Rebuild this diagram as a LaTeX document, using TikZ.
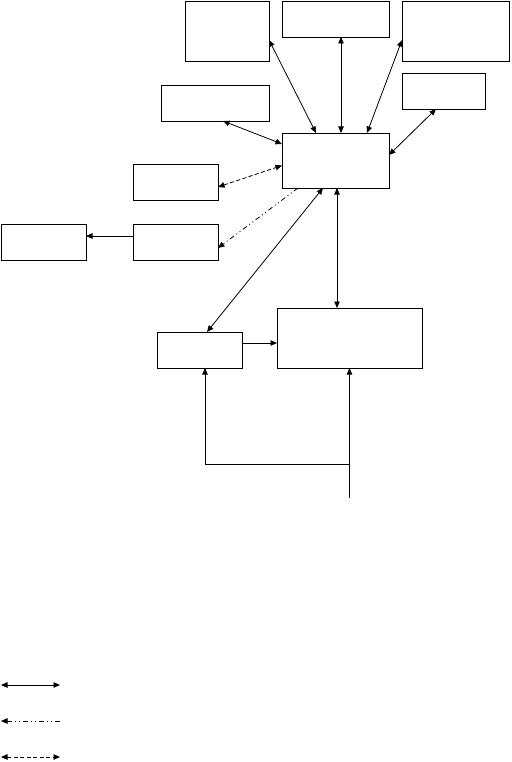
\documentclass[tikz,border=0pt]{standalone}
\usepackage{tikz}
\usetikzlibrary{arrows.meta,positioning}

\begin{document}
\begin{tikzpicture}[
  x=1pt,y=-1pt,
  >={Triangle[length=6.5pt,width=5.5pt]},
  box/.style={draw,line width=0.9pt,inner sep=0pt,outer sep=0pt},
  link/.style={line width=0.8pt},
  dashlink/.style={link,dash pattern=on 4pt off 2.5pt},
  dotlink/.style={link,dash pattern=on 5pt off 3pt on 1pt off 3pt on 1pt off 3pt}
]
  \useasboundingbox (0,0) rectangle (511,762);
  % upper boxes
  \node[box,minimum width=84pt,minimum height=60pt] (archive) at (227,31) {};
  \node[box,minimum width=107pt,minimum height=36pt] (server) at (335.5,19) {};
  \node[box,minimum width=107pt,minimum height=60pt] (client) at (455.5,31) {};
  \node[box,minimum width=108pt,minimum height=36pt] (store) at (215,103) {};
  \node[box,minimum width=83pt,minimum height=36pt] (display) at (443.5,91) {};
  \node[box,minimum width=107pt,minimum height=55pt] (core) at (335.5,160.5) {};
  % left boxes
  \node[box,minimum width=85pt,minimum height=36pt] (monitor) at (175.5,182) {};
  \node[box,minimum width=85pt,minimum height=36pt] (relay) at (175.5,242) {};
  \node[box,minimum width=85pt,minimum height=36pt] (output) at (43.5,242) {};
  % lower boxes
  \node[box,minimum width=85pt,minimum height=36pt] (sensor) at (199.5,350) {};
  \node[box,minimum width=145pt,minimum height=60pt] (control) at (349.5,338) {};
  \coordinate (feed) at (349.5,498);
  \coordinate (split) at (349.5,464);

  \draw[link,<->] ([yshift=-9pt]archive.east) -- ([xshift=-19.5pt]core.north);
  \draw[link,<->] ([xshift=5.5pt]server.south) -- ([xshift=5.5pt]core.north);
  \draw[link,<->] ([yshift=-9pt]client.west) -- ([xshift=31.5pt]core.north);
  \draw[link,<->] ([xshift=-7.5pt]display.south) -- ([yshift=5.5pt]core.east);
  \draw[link,<->] ([xshift=8pt]store.south) -- ([yshift=16.5pt]core.west);
  \draw[dashlink,<->] ([yshift=-5pt]monitor.east) -- ([yshift=-5pt]core.west);
  \draw[dotlink,->] ([xshift=-37.5pt]core.south) -- ([yshift=-6pt]relay.east);
  \draw[link,<->] ([xshift=-12.5pt]core.south) -- ([xshift=7.5pt]sensor.north);
  \draw[link,<->] ([xshift=1.5pt]core.south) -- ([xshift=-12.5pt]control.north);
  \draw[link,->] ([yshift=6pt]relay.west) -- ([yshift=6pt]output.east);
  \draw[link,->] ([yshift=7pt]sensor.east) -- ([yshift=7pt]sensor.east -| control.west);
  \draw[link,->] (feed) -- (control.south);
  \draw[link,->] (split) -| ([xshift=5.5pt]sensor.south);

  % legend
  \coordinate (solidA) at (1,685);
  \coordinate (solidB) at (60,685);
  \coordinate (dotA) at (1,721);
  \coordinate (dotB) at (60,721);
  \coordinate (dashA) at (1,757);
  \coordinate (dashB) at (60,757);
  \draw[link,<->] (solidA) -- (solidB);
  \draw[dotlink,<-] (dotA) -- (dotB);
  \draw[dashlink,<->] (dashA) -- (dashB);
\end{tikzpicture}
\end{document}
